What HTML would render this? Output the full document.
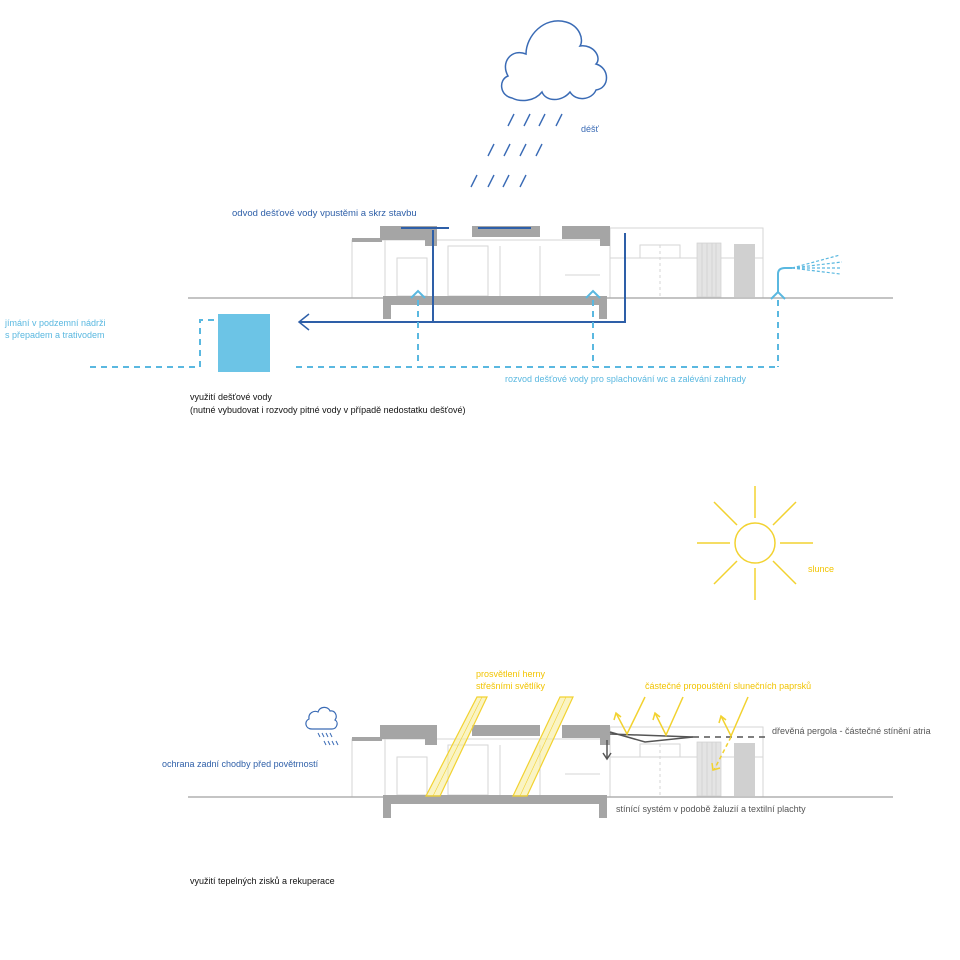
<!DOCTYPE html>
<html><head><meta charset="utf-8"><style>
body{margin:0;background:#fff;}
svg{display:block;font-family:"Liberation Sans",sans-serif;}
</style></head><body>
<svg width="960" height="960" viewBox="0 0 960 960" xmlns="http://www.w3.org/2000/svg">
<defs>
<g id="bld">
  <g fill="none" stroke="#d6d6d6" stroke-width="1">
    <rect x="352" y="240" width="258" height="58"/>
    <rect x="610" y="228" width="153" height="70"/>
    <line x1="385" y1="240" x2="385" y2="298"/>
    <rect x="397" y="258" width="30" height="38"/>
    <rect x="448" y="246" width="40" height="50"/>
    <line x1="500" y1="246" x2="500" y2="296"/>
    <line x1="540" y1="246" x2="540" y2="296"/>
    <line x1="565" y1="275" x2="600" y2="275"/>
    <line x1="610" y1="258" x2="763" y2="258"/>
    <rect x="640" y="245" width="40" height="13"/>
    <line x1="660" y1="245" x2="660" y2="296" stroke-dasharray="3,3"/>
  </g>
  <g fill="#e4e4e4" stroke="#cfcfcf" stroke-width="0.7">
    <rect x="697" y="243" width="24" height="54"/>
  </g>
  <g stroke="#cfcfcf" stroke-width="0.7">
    <line x1="702" y1="243" x2="702" y2="297"/><line x1="707" y1="243" x2="707" y2="297"/>
    <line x1="712" y1="243" x2="712" y2="297"/><line x1="716" y1="243" x2="716" y2="297"/>
  </g>
  <rect x="734" y="244" width="21" height="53" fill="#d0d0d0"/>
  <g fill="#a5a5a5">
    <rect x="352" y="238" width="30" height="4"/>
    <rect x="380" y="226" width="52" height="14"/>
    <rect x="425" y="226" width="12" height="20"/>
    <rect x="472" y="226" width="68" height="11"/>
    <rect x="562" y="226" width="48" height="13"/>
    <rect x="600" y="226" width="10" height="20"/>
  </g>
  <g fill="#a5a5a5">
    <rect x="383" y="296" width="224" height="9"/>
    <rect x="383" y="296" width="8" height="23"/>
    <rect x="599" y="296" width="8" height="23"/>
  </g>
  <line x1="188" y1="298" x2="383" y2="298" stroke="#b0b0b0" stroke-width="1.5"/>
  <line x1="607" y1="298" x2="893" y2="298" stroke="#b0b0b0" stroke-width="1.5"/>
</g>
</defs>

<use href="#bld"/>
<path d="M512,98 C500,96 498,80 508,76 C500,62 512,48 526,54 C526,36 544,16 566,22 C580,26 584,40 580,46 C594,44 602,58 596,64 C610,68 610,88 596,90 C592,100 576,102 570,92 C562,102 546,102 542,92 C534,102 520,102 512,98 Z" fill="#fff" stroke="#3a6bb5" stroke-width="1.5"/>
<g stroke="#3a6bb5" stroke-width="1.4">
  <line x1="508" y1="126" x2="514" y2="114"/><line x1="524" y1="126" x2="530" y2="114"/>
  <line x1="539" y1="126" x2="545" y2="114"/><line x1="556" y1="126" x2="562" y2="114"/>
  <line x1="488" y1="156" x2="494" y2="144"/><line x1="504" y1="156" x2="510" y2="144"/>
  <line x1="520" y1="156" x2="526" y2="144"/><line x1="536" y1="156" x2="542" y2="144"/>
  <line x1="471" y1="187" x2="477" y2="175"/><line x1="488" y1="187" x2="494" y2="175"/>
  <line x1="503" y1="187" x2="509" y2="175"/><line x1="520" y1="187" x2="526" y2="175"/>
</g>
<text x="581" y="132" font-size="9" fill="#3a6bb5">déšť</text>
<text x="232" y="216" font-size="9.5" fill="#2e5fa8">odvod dešťové vody vpustěmi a skrz stavbu</text>
<g stroke="#2e5fa8" stroke-width="2" fill="none">
  <line x1="401" y1="228" x2="449" y2="228"/>
  <line x1="478" y1="228" x2="531" y2="228"/>
  <line x1="433" y1="230" x2="433" y2="323"/>
  <line x1="625" y1="233" x2="625" y2="323"/>
  <line x1="300" y1="322" x2="626" y2="322"/>
  <polyline points="309,314 299,322 309,330" stroke-width="1.5"/>
</g>
<g stroke="#5ab8e0" stroke-width="2" fill="none" stroke-dasharray="6,5">
  <line x1="90" y1="367" x2="200" y2="367"/>
  <polyline points="200,367 200,320 217,320"/>
  <line x1="296" y1="367" x2="778" y2="367"/>
  <line x1="418" y1="300" x2="418" y2="367"/>
  <line x1="593" y1="300" x2="593" y2="367"/>
  <line x1="778" y1="300" x2="778" y2="367"/>
</g>
<g stroke="#5ab8e0" stroke-width="2" fill="none">
  <polyline points="411,298 418,291 425,298"/>
  <polyline points="586,298 593,291 600,298"/>
  <polyline points="771,299 778,292 785,299"/>
  <path d="M778,292 L778,274 Q778,268 785,268 L792,268"/>
</g>
<g stroke="#5ab8e0" stroke-width="1.2" stroke-dasharray="3,2">
  <line x1="792" y1="268" x2="840" y2="255"/>
  <line x1="792" y1="268" x2="842" y2="262"/>
  <line x1="792" y1="268" x2="842" y2="268"/>
  <line x1="792" y1="268" x2="840" y2="274"/>
</g>
<rect x="218" y="314" width="52" height="58" fill="#6cc4e6"/>
<text x="5" y="326" font-size="9" fill="#5ab8e0">jímání v podzemní nádrži</text>
<text x="5" y="338" font-size="9" fill="#5ab8e0">s přepadem a trativodem</text>
<text x="505" y="382" font-size="9" fill="#5ab8e0">rozvod dešťové vody pro splachování wc a zalévání zahrady</text>
<text x="190" y="400" font-size="9" fill="#111">využití dešťové vody</text>
<text x="190" y="413" font-size="9" fill="#111">(nutné vybudovat i rozvody pitné vody v případě nedostatku dešťové)</text>

<g stroke="#f2d230" stroke-width="1.5" fill="none">
  <circle cx="755" cy="543" r="20"/>
  <line x1="755" y1="518" x2="755" y2="486"/><line x1="755" y1="568" x2="755" y2="600"/>
  <line x1="730" y1="543" x2="697" y2="543"/><line x1="780" y1="543" x2="813" y2="543"/>
  <line x1="737" y1="525" x2="714" y2="502"/><line x1="773" y1="525" x2="796" y2="502"/>
  <line x1="737" y1="561" x2="714" y2="584"/><line x1="773" y1="561" x2="796" y2="584"/>
</g>
<text x="808" y="572" font-size="9" fill="#f2c400">slunce</text>

<use href="#bld" transform="translate(0,499)"/>
<g fill="#f7ec9c" fill-opacity="0.6" stroke="#f2d230" stroke-width="1.2">
  <polygon points="426,796 440,796 487,697 477,697"/>
  <polygon points="513,796 527,796 573,697 560,697"/>
</g>
<g stroke="#f2d230" stroke-width="0.6">
  <line x1="433" y1="796" x2="482" y2="697"/>
  <line x1="520" y1="796" x2="566" y2="697"/>
</g>
<text x="476" y="677" font-size="9" fill="#f2c400">prosvětlení herny</text>
<text x="476" y="689" font-size="9" fill="#f2c400">střešními světlíky</text>
<text x="645" y="689" font-size="9" fill="#f2c400">částečné propouštění slunečních paprsků</text>
<g stroke="#555" stroke-width="1.5" fill="none">
  <polyline points="610,732 645,742 693,737"/>
  <line x1="610" y1="734" x2="693" y2="737"/>
  <line x1="693" y1="737" x2="765" y2="737" stroke-dasharray="6,5"/>
  <line x1="607" y1="740" x2="607" y2="758"/>
  <polyline points="603,753 607,759 611,753"/>
</g>
<g stroke="#f2d230" stroke-width="1.5" fill="none">
  <polyline points="645,697 627,734 616,713"/>
  <polyline points="614,720 616,713 621,717"/>
  <polyline points="683,697 666,735 655,713"/>
  <polyline points="653,720 655,713 660,717"/>
  <polyline points="748,697 731,736 721,716"/>
  <polyline points="719,723 721,716 726,720"/>
  <line x1="731" y1="737" x2="714" y2="770" stroke-dasharray="4,3"/>
  <polyline points="712,763 713,770 720,768"/>
</g>
<text x="772" y="734" font-size="9" fill="#555">dřevěná pergola - částečné stínění atria</text>
<text x="616" y="812" font-size="9" fill="#555">stínící systém v podobě žaluzií a textilní plachty</text>
<path d="M312,729 C305,729 304,721 309,719 C308,713 314,710 318,712 C320,706 328,706 330,711 C335,710 338,716 335,720 C339,722 337,729 332,729 Z" fill="#fff" stroke="#3a6bb5" stroke-width="1.2"/>
<g stroke="#3a6bb5" stroke-width="1">
  <line x1="318" y1="733" x2="320" y2="737"/><line x1="322" y1="733" x2="324" y2="737"/>
  <line x1="326" y1="733" x2="328" y2="737"/><line x1="330" y1="733" x2="332" y2="737"/>
  <line x1="324" y1="741" x2="326" y2="745"/><line x1="328" y1="741" x2="330" y2="745"/>
  <line x1="332" y1="741" x2="334" y2="745"/><line x1="336" y1="741" x2="338" y2="745"/>
</g>
<text x="162" y="767" font-size="9" fill="#2e5fa8">ochrana zadní chodby před povětrností</text>
<text x="190" y="884" font-size="9" fill="#111">využití tepelných zisků a rekuperace</text>
</svg>
</body></html>
